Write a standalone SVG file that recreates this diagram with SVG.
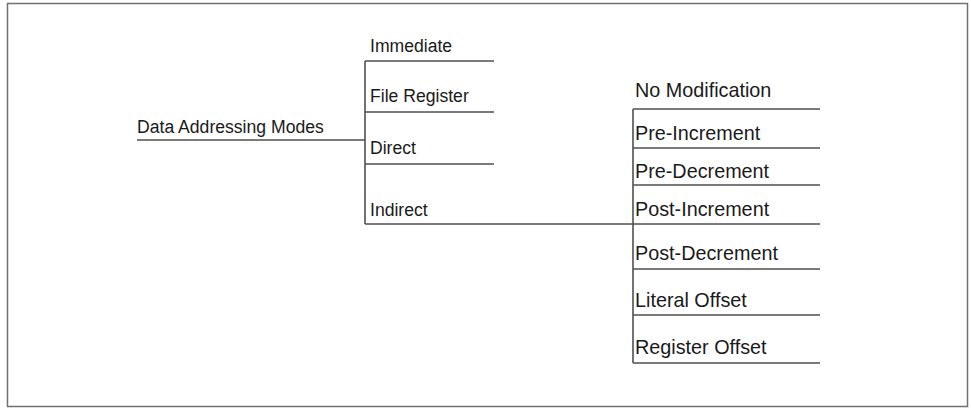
<svg xmlns="http://www.w3.org/2000/svg" width="971" height="410" viewBox="0 0 971 410">
<style>
text{font-family:"Liberation Sans",Arial,sans-serif;font-size:17.6px;fill:#1a1a1a}
.r text{font-size:19.8px}
.l{stroke:#505050;stroke-width:1.6;fill:none}
</style>
<rect width="971" height="410" fill="#fff"/>
<rect x="7.5" y="3.5" width="960" height="403" fill="none" stroke="#707070" stroke-width="1.5"/>
<g id="connectors">
<path class="l" d="M137 140H365M365 61V224M365 61H494M365 112H494M365 164H494M365 224H633"/>
<path class="l" d="M633 109V363M633 109H820M633 148H820M633 185H820M633 224H820M633 269H820M633 315H820M633 363H820"/>
</g>
<g id="root"><text x="137" y="133">Data Addressing Modes</text></g>
<g id="immediate"><text x="370" y="52">Immediate</text></g>
<g id="file-register"><text x="370" y="102">File Register</text></g>
<g id="direct"><text x="370" y="154">Direct</text></g>
<g id="indirect"><text x="370" y="216">Indirect</text></g>
<g class="r">
<g id="no-mod"><text x="635" y="97">No Modification</text></g>
<g id="pre-inc"><text x="635" y="140">Pre-Increment</text></g>
<g id="pre-dec"><text x="635" y="178">Pre-Decrement</text></g>
<g id="post-inc"><text x="635" y="216">Post-Increment</text></g>
<g id="post-dec"><text x="635" y="260">Post-Decrement</text></g>
<g id="literal-offset"><text x="635" y="307">Literal Offset</text></g>
<g id="register-offset"><text x="635" y="354">Register Offset</text></g>
</g>
</svg>
